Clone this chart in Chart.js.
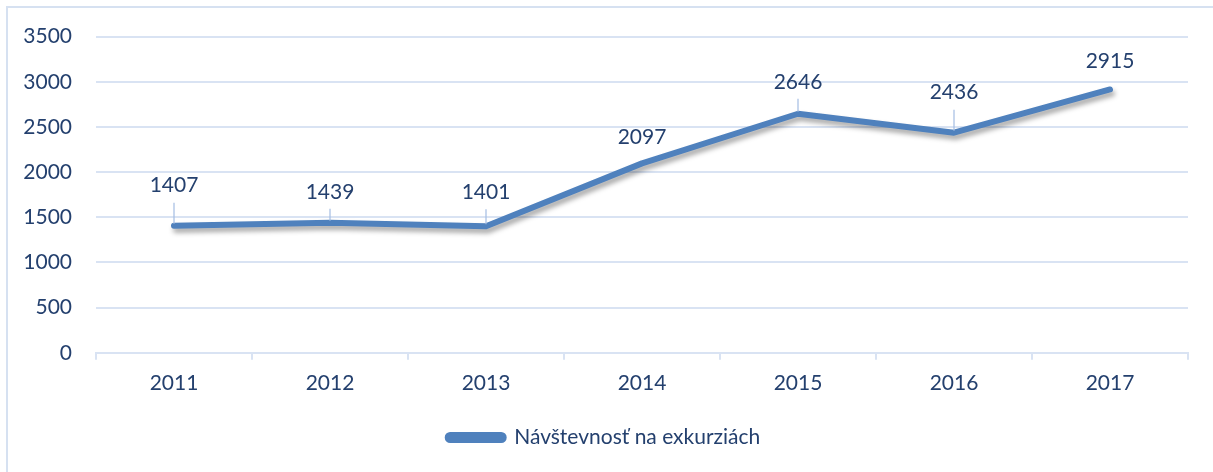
<!DOCTYPE html>
<html>
<head>
<meta charset="utf-8">
<script src="https://cdn.jsdelivr.net/npm/chart.js@4/dist/chart.umd.min.js"></script>
<style>
  html, body { margin: 0; padding: 0; background: #fff; }
  #wrap { position: relative; width: 1213px; height: 472px; overflow: hidden; }
  #frame { position: absolute; left: 6px; top: 6px; width: 1300px; height: 600px;
           border-left: 2px solid #d6e1f1; border-top: 2px solid #d6e1f1; }
  #c { position: absolute; left: 0; top: 0; }
</style>
</head>
<body>
<div id="wrap">
  <div id="frame"></div>
  <canvas id="c" width="1213" height="472"></canvas>
</div>
<script>
// data
const years = ['2011', '2012', '2013', '2014', '2015', '2016', '2017'];
const visits = [1407, 1439, 1401, 2097, 2646, 2436, 2915];
const seriesName = 'Návštevnosť na exkurziách';

const textColor = '#24406e';
const gridColor = '#d9e3f3';
const lineColor = '#4f81bd';
const font = { family: 'Lato', size: 21 };

// how far each value label sits above its point (px)
const labelLift = [40, 31, 34, 26, 32, 40, 28];

const shadowPlugin = {
    id: 'lineShadow',
    beforeDatasetDraw(chart) {
        const ctx = chart.ctx;
        ctx.save();
        ctx.shadowColor = 'rgba(0,0,0,0.35)';
        ctx.shadowBlur = 5;
        ctx.shadowOffsetX = 2;
        ctx.shadowOffsetY = 4;
    },
    afterDatasetDraw(chart) {
        chart.ctx.restore();
    }
};

const valueLabels = {
    id: 'valueLabels',
    afterDatasetsDraw(chart) {
        const ctx = chart.ctx;
        const meta = chart.getDatasetMeta(0);
        ctx.save();
        ctx.font = font.size + 'px ' + font.family;
        ctx.fillStyle = textColor;
        ctx.textAlign = 'center';
        ctx.textBaseline = 'middle';
        meta.data.forEach((pt, i) => {
            const ty = pt.y - labelLift[i];
            const top = ty + 17;
            if (pt.y - top > 12) {
                ctx.strokeStyle = '#a3bde3';
                ctx.lineWidth = 1.2;
                ctx.beginPath();
                ctx.moveTo(pt.x, top);
                ctx.lineTo(pt.x, pt.y - 2);
                ctx.stroke();
            }
            ctx.fillText(String(visits[i]), pt.x, ty);
        });
        ctx.restore();
    }
};

new Chart(document.getElementById('c'), {
    type: 'line',
    data: {
        labels: years,
        datasets: [{
            label: seriesName,
            data: visits,
            borderColor: lineColor,
            backgroundColor: lineColor,
            borderWidth: 6,
            borderJoinStyle: 'round',
            borderCapStyle: 'round',
            pointRadius: 0,
            tension: 0,
            fill: false
        }]
    },
    options: {
        responsive: false,
        animation: false,
        layout: { padding: { top: 36, right: 25, bottom: 14, left: 20 } },
        plugins: {
            tooltip: { enabled: false },
            legend: {
                position: 'bottom',
                labels: {
                    color: textColor,
                    font: font,
                    boxWidth: 56,
                    boxHeight: 5,
                    useBorderRadius: true,
                    borderRadius: 2.5,
                    padding: 12
                }
            }
        },
        scales: {
            x: {
                offset: true,
                grid: {
                    offset: true,
                    drawOnChartArea: false,
                    drawTicks: true,
                    tickLength: 7,
                    color: gridColor,
                    lineWidth: 2
                },
                border: { color: gridColor, width: 2 },
                ticks: { color: textColor, font: font, padding: 11 },
                afterFit(scale) { scale.height += 8; }
            },
            y: {
                min: 0,
                max: 3500,
                ticks: {
                    stepSize: 500, color: textColor, font: font, padding: 24,
                    callback: v => String(v)
                },
                grid: { color: gridColor, lineWidth: 2, drawTicks: false },
                border: { display: false },
                afterFit(scale) { scale.width = 76; }
            }
        }
    },
    plugins: [shadowPlugin, valueLabels]
});
</script>
</body>
</html>
